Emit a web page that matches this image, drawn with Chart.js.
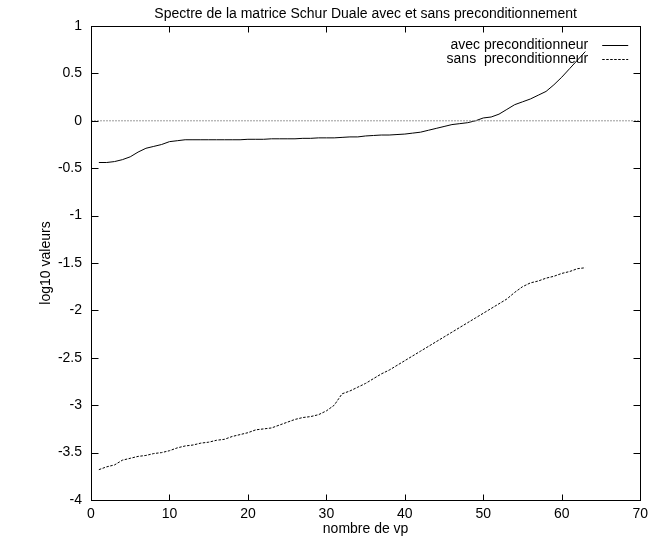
<!DOCTYPE html>
<html>
<head>
<meta charset="utf-8">
<title>Spectre de la matrice Schur Duale</title>
<script src="https://cdn.jsdelivr.net/npm/chart.js@4.4.6/dist/chart.umd.min.js"></script>
<style>
    body { margin: 0; background: #ffffff; }
    canvas { display: block; }
</style>
</head>
<body>
<canvas id="canvasSpectre" width="654" height="539"></canvas>
<script>
// numero de la valeur propre
const vp = [1, 2, 3, 4, 5, 6, 7, 8, 9, 10,
            11, 12, 13, 14, 15, 16, 17, 18, 19, 20,
            21, 22, 23, 24, 25, 26, 27, 28, 29, 30,
            31, 32, 33, 34, 35, 36, 37, 38, 39, 40,
            41, 42, 43, 44, 45, 46, 47, 48, 49, 50,
            51, 52, 53, 54, 55, 56, 57, 58, 59, 60,
            61, 62, 63];

// log10 des valeurs propres, avec preconditionneur
const avecPrecond = [-0.44, -0.44, -0.43, -0.41, -0.38, -0.33, -0.29, -0.27, -0.25, -0.22,
                     -0.21, -0.20, -0.20, -0.20, -0.20, -0.20, -0.20, -0.20, -0.20, -0.195,
                     -0.195, -0.195, -0.19, -0.19, -0.19, -0.19, -0.185, -0.185, -0.18, -0.18,
                     -0.18, -0.175, -0.17, -0.17, -0.16, -0.155, -0.15, -0.15, -0.145, -0.14,
                     -0.13, -0.12, -0.10, -0.08, -0.06, -0.04, -0.03, -0.02, 0.00, 0.03,
                     0.04, 0.07, 0.12, 0.17, 0.20, 0.23, 0.27, 0.31, 0.38, 0.46,
                     0.55, 0.64, 0.73];

// log10 des valeurs propres, sans preconditionneur
const sansPrecond = [-3.68, -3.65, -3.63, -3.58, -3.56, -3.54, -3.53, -3.51, -3.50, -3.48,
                     -3.45, -3.43, -3.42, -3.40, -3.39, -3.37, -3.36, -3.33, -3.31, -3.29,
                     -3.26, -3.25, -3.24, -3.21, -3.18, -3.15, -3.13, -3.12, -3.10, -3.06,
                     -3.00, -2.88, -2.85, -2.81, -2.77, -2.72, -2.67, -2.63, -2.58, -2.53,
                     -2.48, -2.43, -2.38, -2.33, -2.28, -2.23, -2.18, -2.13, -2.08, -2.03,
                     -1.98, -1.93, -1.88, -1.81, -1.75, -1.71, -1.69, -1.66, -1.64, -1.61,
                     -1.59, -1.56, -1.55];

// axe zero
const zeroX = [0, 70];
const zeroY = [0, 0];

const xTicks = [0, 10, 20, 30, 40, 50, 60, 70];
const yTicks = [1, 0.5, 0, -0.5, -1, -1.5, -2, -2.5, -3, -3.5, -4];

const police = '"Liberation Sans", Arial, Helvetica, sans-serif';

function points(xs, ys) {
    return xs.map((v, i) => ({x: v, y: ys[i]}));
}

// cadre + ticks vers l'interieur, facon gnuplot
const cadrePlugin = {
    id: 'cadre',
    afterDatasetsDraw(chart) {
        const {ctx, chartArea: a, scales} = chart;
        const l = Math.round(a.left) + 0.5, r = Math.round(a.right) + 0.5;
        const t = Math.round(a.top) + 0.5, b = Math.round(a.bottom) + 0.5;
        ctx.save();
        ctx.strokeStyle = '#000';
        ctx.lineWidth = 1;
        ctx.setLineDash([]);
        ctx.beginPath();
        scales.x.ticks.forEach(tk => {
            const px = Math.round(scales.x.getPixelForValue(tk.value)) + 0.5;
            ctx.moveTo(px, b); ctx.lineTo(px, b - 6);
            ctx.moveTo(px, t); ctx.lineTo(px, t + 6);
        });
        scales.y.ticks.forEach(tk => {
            const py = Math.round(scales.y.getPixelForValue(tk.value)) + 0.5;
            ctx.moveTo(l, py); ctx.lineTo(l + 7, py);
            ctx.moveTo(r, py); ctx.lineTo(r - 7, py);
        });
        ctx.stroke();
        ctx.strokeRect(l, t, r - l, b - t);
        ctx.restore();
    }
};

// legende en haut a droite, texte a gauche du trait
const legendePlugin = {
    id: 'legende',
    afterDatasetsDraw(chart) {
        const {ctx, chartArea: a} = chart;
        ctx.save();
        ctx.font = '14px ' + police;
        ctx.textAlign = 'right';
        ctx.textBaseline = 'middle';
        let row = 0;
        chart.data.datasets.forEach(ds => {
            if (!ds.label) return;
            const yy = Math.round(a.top + 19 + row * 14) + 0.5;
            ctx.fillStyle = '#000';
            ctx.fillText(ds.label, a.right - 52, yy);
            ctx.strokeStyle = ds.borderColor;
            ctx.lineWidth = 1;
            ctx.setLineDash(ds.borderDash || []);
            ctx.beginPath();
            ctx.moveTo(a.right - 38, yy);
            ctx.lineTo(a.right - 12, yy);
            ctx.stroke();
            row++;
        });
        ctx.restore();
    }
};

const chart = new Chart(document.getElementById('canvasSpectre'), {
    type: 'line',
    data: {
        datasets: [{
            label: '',
            data: points(zeroX, zeroY),
            borderColor: '#9a9a9a',
            borderWidth: 1,
            borderDash: [2, 1],
            pointRadius: 0,
            tension: 0
        }, {
            label: 'avec preconditionneur',
            data: points(vp, avecPrecond),
            borderColor: '#000000',
            borderWidth: 1,
            pointRadius: 0,
            tension: 0
        }, {
            label: 'sans  preconditionneur',
            data: points(vp, sansPrecond),
            borderColor: '#000000',
            borderWidth: 1,
            borderDash: [2.5, 1.5],
            pointRadius: 0,
            tension: 0
        }]
    },
    options: {
        responsive: false,
        animation: false,
        layout: { padding: { left: 0, right: 9, top: 0, bottom: 0 } },
        plugins: {
            legend: { display: false },
            tooltip: { enabled: false },
            title: {
                display: true,
                fullSize: false,
                text: 'Spectre de la matrice Schur Duale avec et sans preconditionnement',
                color: '#000',
                font: { family: police, size: 14, weight: 'normal' },
                padding: { top: 6, bottom: 3.2 }
            }
        },
        scales: {
            x: {
                type: 'linear',
                min: 0,
                max: 70,
                afterBuildTicks: s => { s.ticks = xTicks.map(v => ({value: v})); },
                afterFit: s => { s.height = 39; },
                grid: { display: false, drawTicks: false },
                border: { display: false },
                ticks: { color: '#000', padding: 6, maxRotation: 0, font: { family: police, size: 14 } },
                title: {
                    display: true,
                    text: 'nombre de vp',
                    color: '#000',
                    padding: { top: 0, bottom: 1 },
                    font: { family: police, size: 14 }
                }
            },
            y: {
                type: 'linear',
                min: -4,
                max: 1,
                afterBuildTicks: s => { s.ticks = yTicks.map(v => ({value: v})); },
                afterFit: s => { s.width = 91; },
                grid: { display: false, drawTicks: false },
                border: { display: false },
                ticks: {
                    color: '#000',
                    padding: 9,
                    font: { family: police, size: 14 },
                    callback: v => String(v)
                },
                title: {
                    display: true,
                    text: 'log10 valeurs',
                    color: '#000',
                    padding: { top: 38, bottom: 0 },
                    font: { family: police, size: 14 }
                }
            }
        }
    },
    plugins: [cadrePlugin, legendePlugin]
});
</script>
</body>
</html>
